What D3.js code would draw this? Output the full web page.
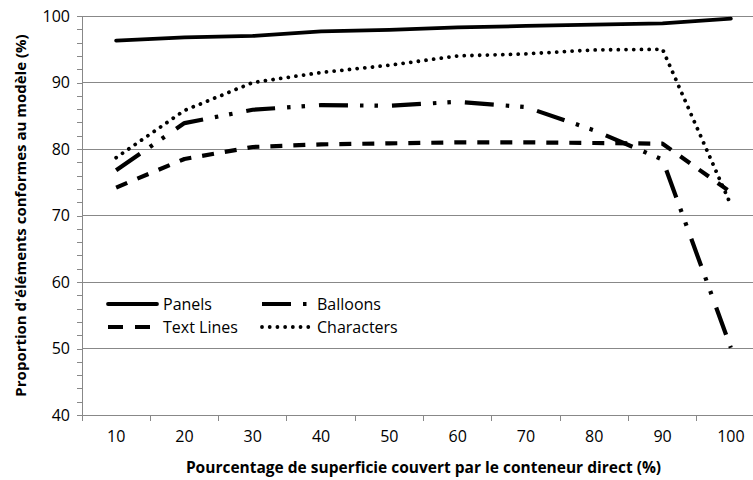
<!DOCTYPE html>
<html>
<head>
<meta charset="utf-8">
<script src="https://cdn.jsdelivr.net/npm/d3@7"></script>
<style>
  html, body { margin: 0; padding: 0; background: #fff; }
  svg { display: block; }
  text { font-family: "Open Sans", Lato, sans-serif; fill: #000; }
</style>
</head>
<body>
<svg id="chart" width="753" height="480"></svg>
<script>
const categories = [10, 20, 30, 40, 50, 60, 70, 80, 90, 100];
const panels     = [96.3, 96.8, 97.0, 97.7, 97.9, 98.3, 98.5, 98.7, 98.9, 99.6];
const textLines  = [74.2, 78.5, 80.3, 80.7, 80.85, 81.0, 81.0, 80.9, 80.8, 73.5];
const balloons   = [76.8, 83.9, 85.9, 86.6, 86.5, 87.1, 86.3, 82.8, 78.4, 50.1];
const characters = [78.7, 85.8, 90.0, 91.5, 92.6, 94.0, 94.3, 94.9, 95.0, 71.6];
const yTicks = [40, 50, 60, 70, 80, 90, 100];
const seriesNames = ["Panels", "Text Lines", "Balloons", "Characters"];
const xTitle = "Pourcentage de superficie couvert par le conteneur direct (%)";
const yTitle = "Proportion d'éléments conformes au modèle (%)";

const series = [
  { name: seriesNames[0], values: panels,     dash: null,                          cap: "round", w: 3.8 },
  { name: seriesNames[1], values: textLines,  dash: "12,11",                       cap: "butt",  w: 4.2 },
  { name: seriesNames[2], values: balloons,   dash: "29,12,3.5,11,3.5,14",         cap: "butt",  w: 4.2 },
  { name: seriesNames[3], values: characters, dash: "0.01,7.7",                    cap: "round", w: 3.8 }
];

const svg = d3.select("#chart");
const L = 82, R = 765, T = 16, B = 415;
const grey = "#888888";

const x = d3.scaleBand().domain(categories).range([L, R]).padding(0);
const cx = c => x(c) + x.bandwidth() / 2;
const y = d3.scaleLinear().domain([40, 100]).range([B, T]);

// gridlines
svg.append("g").selectAll("line").data(yTicks.filter(v => v > 40)).join("line")
  .attr("x1", L).attr("x2", R).attr("y1", d => y(d)).attr("y2", d => y(d))
  .attr("stroke", grey).attr("stroke-width", 1).attr("shape-rendering", "crispEdges");

// y axis with minor ticks
const yAxis = d3.axisLeft(y).tickValues(d3.range(40, 101, 2)).tickSize(5)
  .tickFormat(d => yTicks.includes(d) ? d : "");
const gy = svg.append("g").attr("transform", `translate(${L},0)`).call(yAxis);
gy.select(".domain").attr("stroke", grey).attr("shape-rendering", "crispEdges");
gy.selectAll(".tick line").attr("stroke", grey).attr("shape-rendering", "crispEdges");
gy.selectAll(".tick text").attr("x", -12).attr("font-size", 16).attr("font-family", '"Open Sans", Lato, sans-serif').attr("fill", "#000");

// x axis
const xAxis = d3.axisBottom(x).tickSize(0).tickSizeOuter(0);
const gx = svg.append("g").attr("transform", `translate(0,${B})`).call(xAxis);
gx.select(".domain").attr("stroke", grey).attr("shape-rendering", "crispEdges");
gx.selectAll(".tick text").attr("y", 16).attr("font-size", 16).attr("font-family", '"Open Sans", Lato, sans-serif').attr("fill", "#000");
// x tick marks at band edges
svg.append("g").selectAll("line").data(categories.concat(["end"])).join("line")
  .attr("x1", d => d === "end" ? R : x(d)).attr("x2", d => d === "end" ? R : x(d))
  .attr("y1", B).attr("y2", B + 6)
  .attr("stroke", grey).attr("shape-rendering", "crispEdges");

// lines
const line = d3.line().x((d, i) => cx(categories[i])).y(d => y(d));
svg.append("g").selectAll("path").data(series).join("path")
  .attr("d", d => line(d.values))
  .attr("fill", "none").attr("stroke", "#000")
  .attr("stroke-width", d => d.w)
  .attr("stroke-dasharray", d => d.dash)
  .attr("stroke-linecap", d => d.cap)
  .attr("stroke-linejoin", "round");

// legend
const legPos = [
  { x: 108, y: 304, len: 49, tx: 163 },
  { x: 108, y: 327, len: 42, tx: 163 },
  { x: 262, y: 304, len: 46, tx: 317 },
  { x: 262, y: 327, len: 50, tx: 317 }
];
const leg = svg.append("g");
series.forEach((s, i) => {
  const p = legPos[i];
  leg.append("line").attr("x1", p.x).attr("x2", p.x + p.len).attr("y1", p.y).attr("y2", p.y)
    .attr("stroke", "#000").attr("stroke-width", s.w)
    .attr("stroke-dasharray", i === 1 ? "15,12" : (i === 2 ? "29,12,3.5,50" : s.dash))
    .attr("stroke-linecap", s.cap);
  leg.append("text").attr("x", p.tx).attr("y", p.y).attr("dy", "0.35em")
    .attr("font-size", 16).text(s.name);
});

// titles
svg.append("text").attr("x", (L + R) / 2).attr("y", 468).attr("dy", "0.35em")
  .attr("text-anchor", "middle").attr("font-weight", "bold").attr("font-size", 15.5).text(xTitle);
svg.append("text").attr("transform", `translate(21,${(T + B) / 2}) rotate(-90)`).attr("dy", "0.35em")
  .attr("text-anchor", "middle").attr("font-weight", "bold").attr("font-size", 15).text(yTitle);
</script>
</body>
</html>
